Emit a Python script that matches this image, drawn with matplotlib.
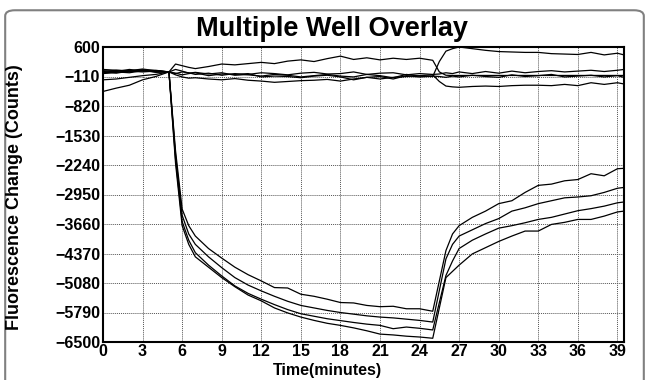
import matplotlib
matplotlib.use("Agg")
import matplotlib.pyplot as plt
from matplotlib.patches import FancyBboxPatch

plt.rcParams['font.family'] = ['Liberation Sans', 'DejaVu Sans']

# sample times (minutes)
time = [0, 1, 2, 3, 4, 5, 5.5, 6, 6.5, 7, 8, 9, 10, 11, 12, 13, 14, 15, 16, 17, 18,
        19, 20, 21, 22, 23, 24, 25, 25.5, 26, 26.5, 27, 28, 29, 30, 31, 32, 33, 34,
        35, 36, 37, 38, 39, 39.5]

# wells that respond (drop at ~5 min, recover at ~25 min)
well_a = [30, 10, 60, 20, 40, 0, -1900, -3300, -3700, -3950, -4250, -4480, -4700, -4880,
          -5030, -5190, -5200, -5350, -5400, -5470, -5550, -5560, -5620, -5650, -5640,
          -5700, -5700, -5760, -5030, -4300, -3900, -3700, -3500, -3350, -3170, -3100,
          -2900, -2730, -2700, -2620, -2590, -2450, -2500, -2330, -2320]
well_b = [0, -30, 20, 40, -10, 0, -2000, -3450, -3900, -4150, -4450, -4710, -4950, -5130,
          -5270, -5400, -5520, -5620, -5680, -5740, -5790, -5830, -5870, -5900, -5920,
          -5950, -5980, -6020, -5260, -4500, -4150, -3950, -3800, -3650, -3530, -3350,
          -3270, -3170, -3100, -3030, -3010, -2980, -2900, -2800, -2780]
well_c = [60, 40, 30, 70, 30, 0, -2100, -3600, -4050, -4350, -4650, -4910, -5150, -5330,
          -5470, -5600, -5720, -5820, -5880, -5940, -5985, -6030, -6070, -6100, -6180,
          -6140, -6170, -6210, -5550, -4900, -4550, -4250, -4050, -3900, -3760, -3700,
          -3630, -3550, -3500, -3420, -3340, -3290, -3230, -3150, -3130]
well_d = [-30, 0, -20, 30, 20, 0, -2200, -3700, -4150, -4450, -4700, -4950, -5170, -5370,
          -5510, -5680, -5800, -5900, -5980, -6050, -6100, -6160, -6230, -6310, -6330,
          -6360, -6380, -6410, -5680, -4950, -4800, -4650, -4380, -4230, -4080, -3950,
          -3830, -3830, -3670, -3620, -3550, -3550, -3470, -3370, -3350]

# wells that stay near baseline
well_e = [10, 40, 20, 50, 30, 0, 190, 150, 110, 80, 130, 190, 170, 200, 230, 200, 260,
          290, 250, 320, 380, 300, 340, 290, 330, 300, 330, 280, 0, -80, -85, -85, -85,
          -85, -85, -85, -85, -85, -85, -85, -85, -85, -85, -85, -85]
well_f = [-40, -10, 20, 0, 20, 0, -40, 0, -20, -60, -30, -80, -40, -70, -100, -60, -80,
          -120, -90, -60, -100, -120, -60, -90, -140, -60, -100, -110, 250, 500, 560, 600,
          560, 520, 490, 480, 470, 470, 440, 430, 420, 470, 410, 450, 410]
well_g = [-470, -390, -320, -190, -110, 0, -70, -120, -150, -140, -170, -190, -160, -200,
          -220, -250, -230, -210, -200, -180, -220, -170, -130, -170, -130, -110, -90, -70,
          -230, -340, -360, -370, -350, -340, -350, -330, -320, -320, -330, -300, -330,
          -260, -300, -260, -290]
well_h = [-190, -170, -130, -90, -60, 0, 60, 20, -30, -10, -50, -20, -80, -60, -20, -40,
          -70, -30, -10, -50, -40, 0, -60, -30, -20, -70, -40, -60, -50, -20, -40, 0, -40,
          10, -30, 20, -20, 10, 30, 0, 20, 40, 10, 40, 60]
well_i = [-20, 30, 0, 40, 0, 0, -30, -70, -40, -20, -90, -50, -60, -40, -120, -100, -110,
          -140, -100, -80, -120, -190, -130, -110, -170, -90, -120, -100, -110, -130, -100,
          -120, -80, -110, -130, -70, -110, -90, -60, -120, -100, -80, -120, -90, -130]

wells = [well_a, well_b, well_c, well_d, well_e, well_f, well_g, well_h, well_i]

y_ticks = [600, -110, -820, -1530, -2240, -2950, -3660, -4370, -5080, -5790, -6500]
x_ticks = list(range(0, 40, 3))

fig = plt.figure(figsize=(6.49, 3.80), dpi=100)

# rounded grey frame around the whole chart
frame = FancyBboxPatch((0.008, -0.05), 0.984, 1.023, boxstyle="round,pad=0,rounding_size=0.015",
                       transform=fig.transFigure, facecolor='white', edgecolor='#808080',
                       linewidth=1.5, zorder=-1)
fig.patches.append(frame)

ax = fig.add_axes([103 / 649, 38 / 380, 521 / 649, 295 / 380])
for w in wells:
    ax.plot(time, w, color='black', linewidth=0.9)

ax.set_xlim(0, 39.5)
ax.set_ylim(-6500, 600)
ax.set_xticks(x_ticks)
ax.set_yticks(y_ticks)
ax.tick_params(length=0, labelsize=11.5)
ax.tick_params(axis='x', pad=1.5)
ax.tick_params(axis='y', pad=2)
for lab in ax.get_xticklabels() + ax.get_yticklabels():
    lab.set_fontweight('bold')
ax.grid(True, linestyle=(0, (1, 1)), color='#555555', linewidth=0.7)
for sp in ax.spines.values():
    sp.set_linewidth(1.5)

ax.set_xlabel('Time(minutes)', fontsize=11.5, fontweight='bold')
ax.xaxis.set_label_coords(0.43, -0.071)
ax.set_ylabel('Fluorescence Change (Counts)', fontsize=13, fontweight='bold')
ax.yaxis.set_label_coords(-0.153, 0.49)
fig.text(0.512, 0.905, 'Multiple Well Overlay', ha='center', va='baseline',
         fontsize=19.5, fontweight='bold')

fig.savefig('out.png', dpi=100)
